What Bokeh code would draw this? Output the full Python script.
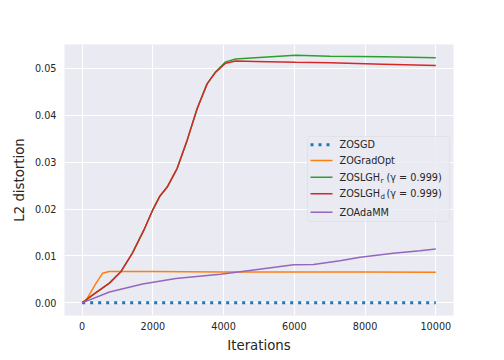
from bokeh.plotting import figure
from bokeh.models import (Range1d, FixedTicker, NumeralTickFormatter, Label,
                          BoxAnnotation, Arrow)
from bokeh.embed import file_html
from bokeh.resources import INLINE

# ---------------- data ----------------
zosgd_x = [0, 10000]
zosgd_y = [0.0, 0.0]

zograd_x = [0, 113, 394, 576, 760, 1000, 2000, 4000, 6000, 8000, 10000]
zograd_y = [0.0, 0.0006, 0.0042, 0.0063, 0.0067, 0.0067, 0.0067, 0.0066, 0.0066, 0.0066, 0.0065]

slgh_x = [0, 300, 770, 1100, 1420, 1750, 2000, 2200, 2405, 2687, 2969, 3250,
          3532, 3775, 4056, 4340, 4900, 6030, 7010, 8500, 10000]
slgh_r_y = [0.0, 0.0017, 0.0042, 0.0067, 0.0106, 0.0156, 0.0199, 0.0228, 0.0247,
            0.0287, 0.0347, 0.0414, 0.0467, 0.0493, 0.0514, 0.0520, 0.0523,
            0.0528, 0.0526, 0.0525, 0.0523]
slgh_d_y = [0.0, 0.0017, 0.0042, 0.0067, 0.0106, 0.0156, 0.0199, 0.0228, 0.0247,
            0.0287, 0.0347, 0.0414, 0.0467, 0.0492, 0.0511, 0.0516, 0.0515,
            0.0513, 0.0512, 0.0509, 0.0506]

adamm_x = [0, 770, 1710, 2648, 3910, 4850, 5980, 6540, 7290, 7860, 8800, 9550, 10000]
adamm_y = [0.0, 0.0023, 0.0040, 0.0052, 0.0061, 0.0070, 0.0081, 0.0082, 0.0090,
           0.0097, 0.0106, 0.0111, 0.0115]

x_ticks = [0, 2000, 4000, 6000, 8000, 10000]
y_ticks = [0.0, 0.01, 0.02, 0.03, 0.04, 0.05]

legend_names = ["ZOSGD", "ZOGradOpt", "ZOSLGH", "ZOSLGH", "ZOAdaMM"]
legend_subs = [None, None, "r", "d", None]
gamma_text = "(γ = 0.999)"

colors = ["#1f77b4", "#ff7f0e", "#2ca02c", "#d62728", "#9467bd"]

FONT = "DejaVu Sans"
TXT = "#262626"

# ---------------- figure ----------------
p = figure(frame_width=389, frame_height=271, output_backend="svg",
           toolbar_location=None,
           x_range=Range1d(-500, 10500), y_range=Range1d(-0.0027, 0.0551),
           min_border_left=64, min_border_right=51, min_border_top=44,
           min_border_bottom=45)
p.title.visible = False
p.background_fill_color = "#EAEAF2"
p.border_fill_color = "white"
p.outline_line_color = None

for g in (p.xgrid[0], p.ygrid[0]):
    g.grid_line_color = "white"
    g.grid_line_width = 1.1

p.xaxis.ticker = FixedTicker(ticks=x_ticks)
p.yaxis.ticker = FixedTicker(ticks=y_ticks)
p.yaxis.formatter = NumeralTickFormatter(format="0.00")
for ax in (p.xaxis[0], p.yaxis[0]):
    ax.axis_line_color = None
    ax.major_tick_line_color = None
    ax.minor_tick_line_color = None
    ax.major_tick_out = 0
    ax.major_tick_in = 0
    ax.minor_tick_out = 0
    ax.minor_tick_in = 0
    ax.major_label_text_font = FONT
    ax.major_label_text_font_size = "9.7px"
    ax.major_label_text_color = TXT
    ax.axis_label_text_font = FONT
    ax.axis_label_text_font_size = "13.3px"
    ax.axis_label_text_color = TXT
    ax.axis_label_text_font_style = "normal"
p.xaxis.axis_label = "Iterations"
p.yaxis.axis_label = "L2 distortion"
p.xaxis.major_label_standoff = 6
p.yaxis.major_label_standoff = 8
p.xaxis.axis_label_standoff = 5
p.yaxis.axis_label_standoff = 5

# ---------------- lines ----------------
p.line(zosgd_x, zosgd_y, line_color=colors[0], line_width=3, line_dash="3 5")
p.line(zograd_x, zograd_y, line_color=colors[1], line_width=1.5)
p.line(slgh_x, slgh_r_y, line_color=colors[2], line_width=1.5)
p.line(slgh_x, slgh_d_y, line_color=colors[3], line_width=1.5)
p.line(adamm_x, adamm_y, line_color=colors[4], line_width=1.5)

# ---------------- legend (frame-relative screen units) ----------------
LX = 243
p.add_layout(BoxAnnotation(left=LX, right=LX + 142, top=179, bottom=94,
                           left_units="screen", right_units="screen",
                           top_units="screen", bottom_units="screen",
                           fill_color="#EAEAF2", fill_alpha=0.8,
                           line_color="#cccccc", line_width=1,
                           border_radius=3, level="overlay"))
row_y = [170.7, 155.0, 138.3, 121.7, 103.3]
for i in range(5):
    y = row_y[i]
    kw = dict(line_width=3, line_dash="3 5") if i == 0 else dict(line_width=1.5)
    p.add_layout(Arrow(x_start=LX + 3, y_start=y, x_end=LX + 25, y_end=y,
                       start_units="screen", end_units="screen", end=None,
                       line_color=colors[i], level="overlay", **kw))
    p.add_layout(Label(x=LX + 32, y=y, x_units="screen", y_units="screen",
                       text=legend_names[i], text_font=FONT,
                       text_font_size="9.7px", text_color=TXT,
                       text_baseline="middle", level="overlay"))
    if legend_subs[i] is not None:
        p.add_layout(Label(x=LX + 73, y=y - 3.5, x_units="screen", y_units="screen",
                           text=legend_subs[i], text_font=FONT,
                           text_font_size="7px", text_color=TXT,
                           text_baseline="middle", level="overlay"))
        p.add_layout(Label(x=LX + 79, y=y, x_units="screen", y_units="screen",
                           text=gamma_text, text_font=FONT,
                           text_font_size="9.7px", text_color=TXT,
                           text_baseline="middle", level="overlay"))

open("out.html", "w").write(file_html(p, INLINE))
